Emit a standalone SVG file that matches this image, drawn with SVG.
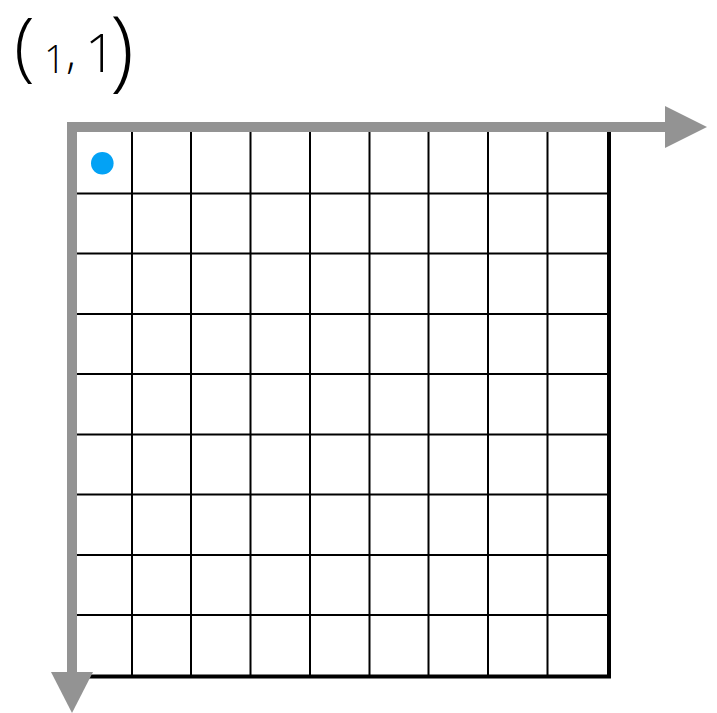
<svg xmlns="http://www.w3.org/2000/svg" width="717" height="713" viewBox="0 0 717 713">
<style>
.grid line{stroke:#000;stroke-width:2}
.border{stroke:#000;stroke-width:4;fill:none}
.axis{stroke:#939393;stroke-width:10;fill:none}
.head{fill:#939393}
.lbl{font-family:"Open Sans","Liberation Sans",sans-serif;font-weight:300;fill:#000}
</style>
<rect width="717" height="713" fill="#fff"/>
<g id="grid" class="grid">
<line x1="72" y1="193.5" x2="608" y2="193.5"/>
<line x1="72" y1="253.5" x2="608" y2="253.5"/>
<line x1="72" y1="314" x2="608" y2="314"/>
<line x1="72" y1="374" x2="608" y2="374"/>
<line x1="72" y1="434.5" x2="608" y2="434.5"/>
<line x1="72" y1="494.5" x2="608" y2="494.5"/>
<line x1="72" y1="555" x2="608" y2="555"/>
<line x1="72" y1="615" x2="608" y2="615"/>
<line x1="132" y1="127" x2="132" y2="676"/>
<line x1="191" y1="127" x2="191" y2="676"/>
<line x1="250.5" y1="127" x2="250.5" y2="676"/>
<line x1="310" y1="127" x2="310" y2="676"/>
<line x1="369.5" y1="127" x2="369.5" y2="676"/>
<line x1="428.5" y1="127" x2="428.5" y2="676"/>
<line x1="488" y1="127" x2="488" y2="676"/>
<line x1="547.5" y1="127" x2="547.5" y2="676"/>
</g>
<g id="border">
<polyline class="border" points="609,127 609,676.5 72,676.5"/>
</g>
<g id="axes">
<polyline class="axis" points="72,674 72,127 667,127"/>
<polygon class="head" points="665,106 707,127 665,148"/>
<polygon class="head" points="51,672 93,672 72,713"/>
</g>
<g id="point">
<circle cx="102.3" cy="163.3" r="11.3" fill="#03a2f5"/>
</g>
<g id="label">
<text class="lbl"><tspan x="14" y="72" font-size="76">(</tspan><tspan x="44" y="73" font-size="38">1</tspan><tspan x="66" y="68" font-size="46">,</tspan><tspan x="85" y="72" font-size="54">1</tspan><tspan x="110" y="80" font-size="88">)</tspan></text>
</g>
</svg>
